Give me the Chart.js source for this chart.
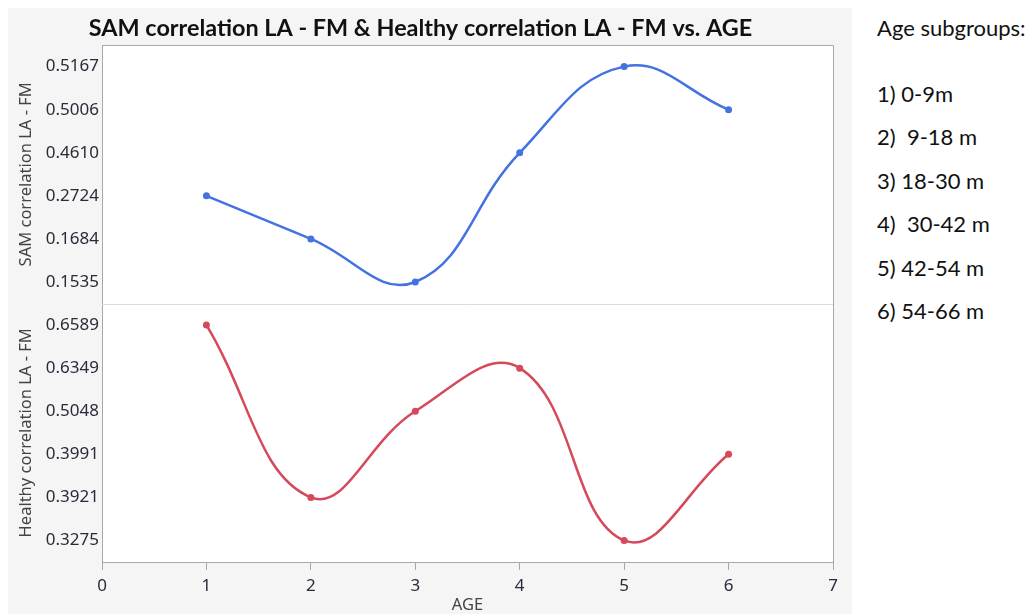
<!DOCTYPE html>
<html>
<head>
<meta charset="utf-8">
<script src="https://cdn.jsdelivr.net/npm/chart.js@4/dist/chart.umd.min.js"></script>
<style>
  body { margin: 0; background: #fff; font-family: Lato, "Noto Sans", sans-serif; }
  #panel { position: absolute; left: 8px; top: 8px; width: 844px; height: 606px; background: #f5f5f5; }
  #notes { position: absolute; left: 877px; top: 12px; font-size: 22px; color: #111; }
  #notes .head { height: 66px; line-height: 32px; }
  #notes .item { height: 43.4px; line-height: 32px; white-space: pre; }
</style>
</head>
<body>
<div id="panel"><canvas id="myChart"></canvas></div>
<div id="notes"></div>
<script>
// values
var ages = [1, 2, 3, 4, 5, 6];
var samValues = [0.2724, 0.1684, 0.1535, 0.4610, 0.5167, 0.5006];
var healthyValues = [0.6589, 0.3921, 0.5048, 0.6349, 0.3275, 0.3991];
// the y axes are ordinal: each tick label sits at one evenly spaced position
var samTicks = [0.5167, 0.5006, 0.4610, 0.2724, 0.1684, 0.1535];
var healthyTicks = [0.6589, 0.6349, 0.5048, 0.3991, 0.3921, 0.3275];
var ageTicks = [0, 1, 2, 3, 4, 5, 6, 7];
var notesTitle = 'Age subgroups:';
var subgroups = ['1) 0-9m', '2)  9-18 m', '3) 18-30 m', '4)  30-42 m', '5) 42-54 m', '6) 54-66 m'];

var notes = document.getElementById('notes');
var head = document.createElement('div');
head.className = 'head';
head.textContent = notesTitle;
notes.appendChild(head);
subgroups.forEach(function (t) {
  var d = document.createElement('div');
  d.className = 'item';
  d.textContent = t;
  notes.appendChild(d);
});

function toPoints(values, ticks) {
  return values.map(function (v, i) {
    return { x: ages[i], y: ticks.indexOf(v) };
  });
}

var tickFont = { family: 'Noto Sans', size: 17 };
var titleFont = { family: 'Noto Sans', size: 16.5, lineHeight: 1 };

function ordinalAxis(ticks, label) {
  return {
    type: 'linear',
    position: 'left',
    stack: 'age',
    stackWeight: 1,
    reverse: true,
    min: -0.5,
    max: ticks.length - 0.5,
    afterBuildTicks: function (scale) {
      scale.ticks = ticks.map(function (_, i) { return { value: i }; });
    },
    afterFit: function (scale) { scale.width = 94; },
    grid: { display: false, drawTicks: false },
    border: { color: '#a8a8a8', width: 1 },
    ticks: {
      padding: 3,
      color: '#2a2a3a',
      font: tickFont,
      autoSkip: false,
      callback: function (v) { return ticks[v] !== undefined ? ticks[v].toFixed(4) : ''; }
    },
    title: { display: true, text: label, color: '#444', font: titleFont, padding: { top: 10 } }
  };
}

var framePlugin = {
  id: 'frame',
  beforeDraw: function (chart) {
    var a = chart.chartArea, ctx = chart.ctx;
    ctx.save();
    ctx.fillStyle = '#ffffff';
    ctx.fillRect(a.left, a.top, a.right - a.left, a.bottom - a.top);
    ctx.restore();
  },
  afterDraw: function (chart) {
    var a = chart.chartArea, ctx = chart.ctx;
    var sep = chart.scales.ySam.bottom;
    ctx.save();
    ctx.lineWidth = 1;
    ctx.strokeStyle = '#dcdcdc';
    ctx.beginPath();
    ctx.moveTo(a.left, Math.round(sep) + 0.5);
    ctx.lineTo(a.right, Math.round(sep) + 0.5);
    ctx.stroke();
    ctx.strokeStyle = '#a8a8a8';
    ctx.beginPath();
    ctx.moveTo(a.left, Math.round(a.top) + 0.5);
    ctx.lineTo(Math.round(a.right) + 0.5, Math.round(a.top) + 0.5);
    ctx.lineTo(Math.round(a.right) + 0.5, a.bottom);
    ctx.stroke();
    ctx.restore();
  }
};

var ctx = document.getElementById('myChart').getContext('2d');
var myChart = new Chart(ctx, {
  type: 'line',
  data: {
    datasets: [
      {
        label: 'SAM correlation LA - FM',
        data: toPoints(samValues, samTicks),
        yAxisID: 'ySam',
        borderColor: '#4472e0',
        backgroundColor: '#4472e0',
        borderWidth: 2.5,
        pointRadius: 3.5,
        pointBorderWidth: 0,
        tension: 0.42,
        fill: false
      },
      {
        label: 'Healthy correlation LA - FM',
        data: toPoints(healthyValues, healthyTicks),
        yAxisID: 'yHealthy',
        borderColor: '#d5495a',
        backgroundColor: '#d5495a',
        borderWidth: 2.5,
        pointRadius: 3.5,
        pointBorderWidth: 0,
        tension: 0.42,
        fill: false
      }
    ]
  },
  options: {
    responsive: true,
    maintainAspectRatio: false,
    animation: false,
    layout: { padding: { left: 0, right: 19, top: 0, bottom: 0 } },
    plugins: {
      legend: { display: false },
      tooltip: { enabled: false },
      title: {
        display: true,
        text: 'SAM correlation LA - FM & Healthy correlation LA - FM vs. AGE',
        color: '#111',
        font: { family: 'Lato', size: 23.4, weight: 'bold', lineHeight: 1.2 },
        padding: { top: 6, bottom: 3 }
      }
    },
    scales: {
      x: {
        type: 'linear',
        min: 0,
        max: 7,
        afterBuildTicks: function (scale) {
          scale.ticks = ageTicks.map(function (v) { return { value: v }; });
        },
        afterFit: function (scale) { scale.height = 52; },
        grid: { drawOnChartArea: false, drawTicks: true, tickLength: 8, color: '#a8a8a8' },
        border: { color: '#a8a8a8', width: 1 },
        ticks: { padding: 6, color: '#2a2a3a', font: tickFont },
        title: { display: true, text: 'AGE', color: '#444', font: titleFont, padding: { top: 0, bottom: 0 } }
      },
      // first stacked axis is laid out at the bottom
      yHealthy: ordinalAxis(healthyTicks, 'Healthy correlation LA - FM'),
      ySam: ordinalAxis(samTicks, 'SAM correlation LA - FM')
    }
  },
  plugins: [framePlugin]
});
</script>
</body>
</html>
